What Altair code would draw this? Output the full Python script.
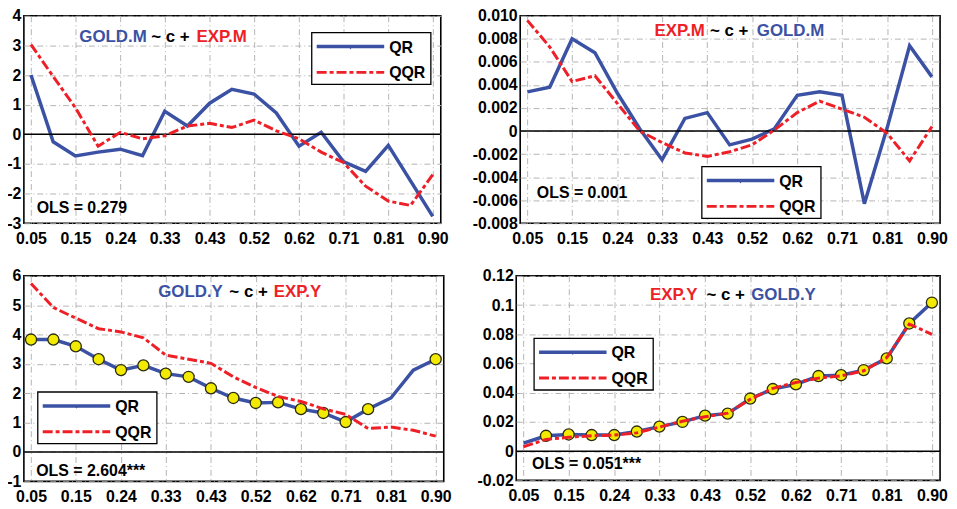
import altair as alt
import pandas as pd

# ---------------- data ----------------
tau = [0.050, 0.097, 0.144, 0.192, 0.239, 0.286, 0.333, 0.381, 0.428, 0.475,
       0.522, 0.569, 0.617, 0.664, 0.711, 0.758, 0.806, 0.853, 0.900]
x_tick_labels = ["0.05", "0.15", "0.24", "0.33", "0.43", "0.52", "0.62", "0.71", "0.81", "0.90"]

p1_qr = [2.00, -0.25, -0.73, -0.60, -0.50, -0.72, 0.78, 0.28, 1.05, 1.52,
         1.36, 0.72, -0.40, 0.07, -0.92, -1.25, -0.37, -1.57, -2.77]
p1_qqr = [3.03, 1.95, 0.90, -0.40, 0.07, -0.15, -0.05, 0.28, 0.37, 0.23,
          0.48, 0.12, -0.15, -0.60, -0.95, -1.75, -2.25, -2.40, -1.36]

p2_qr = [0.0034, 0.0038, 0.0080, 0.0068, 0.0033, 0.0002, -0.0025, 0.0011, 0.0016, -0.0012,
         -0.0007, 0.0002, 0.0031, 0.0034, 0.0031, -0.0063, 0.0003, 0.0074, 0.0047]
p2_qqr = [0.0096, 0.0073, 0.0043, 0.0048, 0.0024, 0.0000, -0.0010, -0.0019, -0.0022, -0.0018,
          -0.0012, 0.0001, 0.0016, 0.0026, 0.0019, 0.0012, -0.0002, -0.0026, 0.0004]

p3_qr = [3.83, 3.83, 3.60, 3.16, 2.79, 2.95, 2.67, 2.56, 2.17, 1.84,
         1.67, 1.69, 1.46, 1.33, 1.02, 1.46, 1.84, 2.79, 3.16]
p3_qqr = [5.74, 4.92, 4.56, 4.20, 4.09, 3.89, 3.30, 3.16, 3.02, 2.56,
          2.20, 1.89, 1.72, 1.47, 1.28, 0.80, 0.85, 0.74, 0.54]
p3_sig = [True] * 16 + [False, False, True]

p4_qr = [0.0055, 0.0105, 0.0114, 0.0110, 0.0110, 0.0134, 0.0168, 0.0200, 0.0243, 0.0257,
         0.0360, 0.0425, 0.0457, 0.0514, 0.0520, 0.0555, 0.0635, 0.0874, 0.1017]
p4_qqr = [0.0030, 0.0080, 0.0095, 0.0105, 0.0110, 0.0125, 0.0165, 0.0205, 0.0235, 0.0260,
          0.0355, 0.0430, 0.0470, 0.0500, 0.0515, 0.0550, 0.0640, 0.0870, 0.0800]
p4_sig = [False] + [True] * 18

# ---------------- styles ----------------
BLUE = "#3B52A4"
RED = "#EE1F26"
YELLOW = "#F2EA00"
FONT = "Liberation Sans"
DASHDOT = [10, 3, 4, 3]

one = alt.Data(values=[{"k": 0}])

x_label_expr = "[" + ",".join("'%s'" % s for s in x_tick_labels) + "][round((datum.value - 0.05) / 0.0944444)]"
x_axis = alt.Axis(values=tau[::2], labelExpr=x_label_expr, title=None, grid=True, ticks=False,
                  domain=False, labelFont=FONT, labelFontSize=16, labelFontWeight="bold",
                  labelColor="black", labelPadding=7, labelOverlap=False, labelFlush=False,
                  tickCount=40)
x_scale = alt.Scale(domain=[0.035, 0.917], nice=False, zero=False)


def y_axis(values, expr):
    return alt.Axis(values=values, labelExpr=expr, title=None, grid=True, ticks=False,
                    domain=False, labelFont=FONT, labelFontSize=16, labelFontWeight="bold",
                    labelColor="black", labelPadding=3, labelOverlap=False, labelFlush=False,
                    labelSeparation=0, tickCount=40)


def panel(qr, qqr, sig, ydom, yvals, yexpr, w, h, title_parts, ols, ols_pos, leg):
    df = pd.DataFrame({"tau": tau, "QR": qr, "QQR": qqr, "sig": sig})
    base = alt.Chart(df)
    ys = alt.Scale(domain=ydom, nice=False, zero=False)
    ya = y_axis(yvals, yexpr)
    X = alt.X("tau:Q", scale=x_scale, axis=x_axis)

    blue = base.mark_line(color=BLUE, strokeWidth=3.5).encode(
        x=X, y=alt.Y("QR:Q", scale=ys, axis=ya))
    zero = alt.Chart(one).mark_rule(color="black", strokeWidth=1.5).encode(
        y=alt.datum(0))
    layers = [blue, zero]
    if any(sig):
        dots = base.transform_filter("datum.sig").mark_circle(
            size=125, color=YELLOW, opacity=1, stroke="#2b2b10", strokeWidth=1.3).encode(
            x="tau:Q", y="QR:Q")
        layers.append(dots)
    red = base.mark_line(color=RED, strokeWidth=3, strokeDash=DASHDOT).encode(
        x="tau:Q", y="QQR:Q")
    layers.append(red)

    # title pieces (data coordinates)
    for txt, col, xpos, ypos, al in title_parts:
        layers.append(alt.Chart(one).mark_text(
            text=txt, color=col, font=FONT, fontSize=17, fontWeight="bold",
            align=al, baseline="middle").encode(x=alt.datum(xpos), y=alt.datum(ypos)))
    layers.append(alt.Chart(one).mark_text(
        text=ols, color="black", font=FONT, fontSize=16, fontWeight="bold",
        align="left", baseline="middle").encode(x=alt.datum(ols_pos[0]), y=alt.datum(ols_pos[1])))

    # legend box
    lx, ly = leg
    layers += [
        alt.Chart(one).mark_rect(fill="white", stroke="black", strokeWidth=1.3).encode(
            x=alt.value(lx), x2=alt.value(lx + 120), y=alt.value(ly), y2=alt.value(ly + 52)),
        alt.Chart(one).mark_rule(color=BLUE, strokeWidth=3.5).encode(
            x=alt.value(lx + 5), x2=alt.value(lx + 73), y=alt.value(ly + 14)),
        alt.Chart(one).mark_point(shape="triangle-down", size=18, filled=True, color=BLUE, opacity=1).encode(
            x=alt.value(lx + 39), y=alt.value(ly + 15)),
        alt.Chart(one).mark_rule(color=RED, strokeWidth=3, strokeDash=DASHDOT).encode(
            x=alt.value(lx + 5), x2=alt.value(lx + 73), y=alt.value(ly + 40)),
        alt.Chart(one).mark_text(text="QR", font=FONT, fontSize=16, fontWeight="bold",
                                 align="left", baseline="middle", color="black").encode(
            x=alt.value(lx + 78), y=alt.value(ly + 15)),
        alt.Chart(one).mark_text(text="QQR", font=FONT, fontSize=16, fontWeight="bold",
                                 align="left", baseline="middle", color="black").encode(
            x=alt.value(lx + 78), y=alt.value(ly + 41)),
    ]
    return alt.layer(*layers).properties(width=w, height=h)


def dec_expr(fmt, zero_label="0"):
    return ("datum.value == 0 ? '%s' : replace(format(datum.value, '%s'), '\u2212', '-')"
            % (zero_label, fmt))


p1 = panel(p1_qr, p1_qqr, [False] * 19, [-3, 4], [-3, -2, -1, 0, 1, 2, 3, 4], dec_expr("d"),
           420, 209,
           [("GOLD.M", BLUE, 0.295, 3.30, "right"), ("~ c +", "black", 0.345, 3.30, "center"),
            ("EXP.M", RED, 0.400, 3.30, "left")],
           "OLS = 0.279", (0.062, -2.5), (290, 17))

p2 = panel(p2_qr, p2_qqr, [False] * 19, [-0.008, 0.010],
           [-0.008, -0.006, -0.004, -0.002, 0, 0.002, 0.004, 0.006, 0.008, 0.010], dec_expr(".3f"),
           423, 209,
           [("EXP.M", RED, 0.423, 0.00867, "right"), ("~ c +", "black", 0.474, 0.00867, "center"),
            ("GOLD.M", BLUE, 0.532, 0.00867, "left")],
           "OLS = 0.001", (0.070, -0.00535), (183, 152))

p3 = panel(p3_qr, p3_qqr, p3_sig, [-1, 6], [-1, 0, 1, 2, 3, 4, 5, 6], dec_expr("d"),
           423, 207,
           [("GOLD.Y", BLUE, 0.453, 5.45, "right"), ("~ c +", "black", 0.507, 5.45, "center"),
            ("EXP.Y", RED, 0.560, 5.45, "left")],
           "OLS = 2.604***", (0.061, -0.65), (14, 117))

p4 = panel(p4_qr, p4_qqr, p4_sig, [-0.02, 0.12],
           [-0.02, 0, 0.02, 0.04, 0.06, 0.08, 0.10, 0.12], dec_expr(".2~f"),
           427, 206,
           [("EXP.Y", RED, 0.412, 0.107, "right"), ("~ c +", "black", 0.471, 0.107, "center"),
            ("GOLD.Y", BLUE, 0.524, 0.107, "left")],
           "OLS = 0.051***", (0.068, -0.009), (18, 63))

row1 = alt.hconcat(p1, p2, spacing=21).resolve_scale(x="independent", y="independent")
row2 = alt.hconcat(p3, p4, spacing=23).resolve_scale(x="independent", y="independent")
chart = alt.vconcat(row1, row2, spacing=20).resolve_scale(
    x="independent", y="independent").properties(
    padding={"left": -3, "top": -3, "right": 0, "bottom": 0},
    background="white",
).configure_view(stroke="black", strokeWidth=1.6).configure_axis(
    gridColor="#B4B4B4", gridDash=[6, 3, 1, 3], gridWidth=1, gridOpacity=1,
    labelOverlap=False, labelSeparation=0)

chart.save("out.html", embed_options={"renderer": "svg", "actions": False})
